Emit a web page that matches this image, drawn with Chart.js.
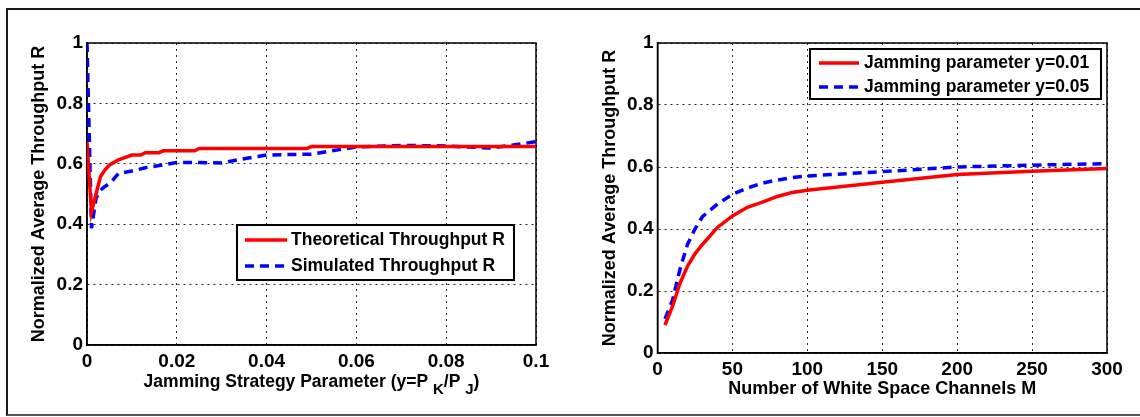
<!DOCTYPE html>
<html>
<head>
  <title>Normalized Average Throughput</title>
  <meta charset="utf-8" />
  <script src="https://cdn.jsdelivr.net/npm/chart.js"></script>
  <style>
    body { margin: 0; background: #fff; }
    #wrap { position: relative; width: 1140px; height: 417px; overflow: hidden; background: #fff; }
    #frame {
      position: absolute; left: 6px; top: 8px; width: 1200px; height: 408px;
      box-sizing: border-box;
      border-left: 2px solid #1a1a1a; border-top: 2px solid #1a1a1a; border-bottom: 2px solid #555;
    }
    canvas { position: absolute; top: 0; }
  </style>
</head>
<body>
<div id="wrap">
  <div id="frame"></div>
  <canvas id="left" width="570" height="417" style="left:0"></canvas>
  <canvas id="right" width="570" height="417" style="left:570px"></canvas>
</div>
<script>
  // left panel: R vs jamming strategy parameter y = P_K / P_J
  const theoParam = [0, 0.001, 0.002, 0.003, 0.004, 0.005, 0.007, 0.01, 0.012, 0.013, 0.016, 0.017, 0.024, 0.025, 0.049, 0.05, 0.1];
  const theoR     = [0.672, 0.44, 0.50, 0.557, 0.58, 0.596, 0.613, 0.629, 0.629, 0.637, 0.637, 0.643, 0.643, 0.651, 0.651, 0.657, 0.657];
  const simParam  = [0, 0.001, 0.002, 0.003, 0.004, 0.005, 0.006, 0.007, 0.01, 0.013, 0.02, 0.025, 0.03, 0.035, 0.04, 0.05, 0.06, 0.07, 0.08, 0.09, 0.1];
  const simR      = [1.0, 0.387, 0.485, 0.513, 0.525, 0.535, 0.55, 0.568, 0.576, 0.587, 0.604, 0.604, 0.603, 0.617, 0.629, 0.632, 0.656, 0.661, 0.659, 0.652, 0.673];

  // right panel: R vs number of white space channels M
  const channelsM = [5, 10, 15, 20, 25, 30, 40, 50, 60, 70, 80, 90, 100, 150, 200, 250, 300];
  const rJam001   = [0.09, 0.15, 0.225, 0.28, 0.32, 0.35, 0.405, 0.442, 0.47, 0.487, 0.505, 0.518, 0.525, 0.551, 0.576, 0.586, 0.595];
  const rJam005   = [0.11, 0.17, 0.27, 0.35, 0.40, 0.44, 0.48, 0.512, 0.532, 0.548, 0.558, 0.566, 0.571, 0.585, 0.600, 0.606, 0.611];

  const FONT = '"Liberation Sans", Arial, sans-serif';
  const fmt = v => String(+Number(v).toFixed(3));
  const pts = (xs, ys) => xs.map((x, i) => ({ x: x, y: ys[i] }));

  // full MATLAB style box around the axes
  const axesBox = {
    id: 'axesBox',
    beforeDatasetsDraw(chart) {
      const { ctx, chartArea: a } = chart;
      ctx.save();
      ctx.strokeStyle = '#000';
      ctx.lineWidth = 1.5;
      ctx.strokeRect(a.left, a.top, a.right - a.left, a.bottom - a.top);
      ctx.restore();
    }
  };

  // boxed legend with line samples
  const boxLegend = {
    id: 'boxLegend',
    afterDatasetsDraw(chart, args, o) {
      const ctx = chart.ctx;
      ctx.save();
      ctx.fillStyle = '#fff';
      ctx.fillRect(o.left, o.top, o.width, o.height);
      ctx.lineWidth = 2;
      ctx.strokeStyle = '#000';
      ctx.strokeRect(o.left, o.top, o.width, o.height);
      chart.data.datasets.forEach((ds, i) => {
        const y = o.rows[i];
        ctx.beginPath();
        ctx.setLineDash(ds.borderDash || []);
        ctx.lineWidth = ds.borderWidth;
        ctx.strokeStyle = ds.borderColor;
        ctx.moveTo(o.lineFrom, y);
        ctx.lineTo(o.lineTo, y);
        ctx.stroke();
        ctx.setLineDash([]);
        ctx.fillStyle = '#000';
        ctx.font = 'bold ' + o.fontSize + 'px ' + FONT;
        ctx.textBaseline = 'middle';
        ctx.textAlign = 'left';
        ctx.fillText(ds.label, o.textX, y);
      });
      ctx.restore();
    }
  };

  // x title with lowered K and J
  const subTitle = {
    id: 'subTitle',
    afterDraw(chart, args, o) {
      if (!o.parts) return;
      const ctx = chart.ctx;
      ctx.save();
      ctx.fillStyle = '#000';
      ctx.textBaseline = 'middle';
      ctx.textAlign = 'left';
      let total = 0;
      o.parts.forEach(p => {
        ctx.font = 'bold ' + (p.sub ? o.subSize : o.size) + 'px ' + FONT;
        p.w = ctx.measureText(p.text).width;
        total += p.w;
      });
      let x = (chart.chartArea.left + chart.chartArea.right) / 2 - total / 2;
      o.parts.forEach(p => {
        ctx.font = 'bold ' + (p.sub ? o.subSize : o.size) + 'px ' + FONT;
        ctx.fillText(p.text, x, o.y + (p.sub ? o.subShift : 0));
        x += p.w;
      });
      ctx.restore();
    }
  };

  function scales(c) {
    const tickFont = { family: FONT, size: 19, weight: 'bold' };
    return {
      x: {
        type: 'linear', min: c.xMin, max: c.xMax,
        ticks: { stepSize: c.xStep, padding: 5, color: '#000', font: tickFont, maxRotation: 0, callback: fmt },
        grid: { color: '#222', lineWidth: 1, drawTicks: false },
        border: { color: '#000', width: 1.5, dash: [2, 4] },
        title: c.xTitle
          ? { display: true, text: c.xTitle, color: '#000', font: { family: FONT, size: 18, weight: 'bold' }, padding: { top: 0, bottom: c.xTitlePad } }
          : { display: false },
        afterFit: s => { s.height = c.xHeight; }
      },
      y: {
        type: 'linear', min: 0, max: 1,
        ticks: { stepSize: 0.2, padding: 4, color: '#000', font: tickFont, callback: fmt },
        grid: { color: '#222', lineWidth: 1, drawTicks: false },
        border: { color: '#000', width: 1.5, dash: [2, 4] },
        title: { display: true, text: 'Normalized Average Throughput R', color: '#000', font: { family: FONT, size: 18, weight: 'bold' }, padding: { top: c.yTitlePad, bottom: 0 } },
        afterFit: s => { s.width = c.yWidth; }
      }
    };
  }

  const lineStyle = {
    red:  { borderColor: '#ff0000', borderWidth: 3.5, pointRadius: 0, tension: 0, fill: false },
    blue: { borderColor: '#0000ff', borderWidth: 3.5, borderDash: [9, 6], pointRadius: 0, tension: 0, fill: false }
  };

  new Chart(document.getElementById('left'), {
    type: 'line',
    data: {
      datasets: [
        Object.assign({ label: 'Theoretical Throughput R', data: pts(theoParam, theoR) }, lineStyle.red),
        Object.assign({ label: 'Simulated Throughput R', data: pts(simParam, simR) }, lineStyle.blue)
      ]
    },
    options: {
      responsive: false, animation: false, devicePixelRatio: 1,
      layout: { padding: { left: 0, top: 43, right: 34, bottom: 0 } },
      scales: scales({ xMin: 0, xMax: 0.1, xStep: 0.02, xHeight: 72, yWidth: 87, yTitlePad: 28.5 }),
      plugins: {
        legend: { display: false },
        tooltip: { enabled: false },
        boxLegend: { left: 237, top: 225, width: 277, height: 55, rows: [240, 266], lineFrom: 245, lineTo: 287, textX: 291, fontSize: 17.5 },
        subTitle: {
          y: 382, size: 17.5, subSize: 15, subShift: 8,
          parts: [
            { text: 'Jamming Strategy Parameter (y=P ' },
            { text: 'K', sub: true },
            { text: '/P ' },
            { text: 'J', sub: true },
            { text: ')' }
          ]
        }
      }
    },
    plugins: [axesBox, boxLegend, subTitle]
  });

  new Chart(document.getElementById('right'), {
    type: 'line',
    data: {
      datasets: [
        Object.assign({ label: 'Jamming parameter y=0.01', data: pts(channelsM, rJam001) }, lineStyle.red),
        Object.assign({ label: 'Jamming parameter y=0.05', data: pts(channelsM, rJam005) }, lineStyle.blue)
      ]
    },
    options: {
      responsive: false, animation: false, devicePixelRatio: 1,
      layout: { padding: { left: 0, top: 43, right: 33, bottom: 0 } },
      scales: scales({ xMin: 0, xMax: 300, xStep: 50, xHeight: 64, yWidth: 87.5, yTitlePad: 29.2,
                       xTitle: 'Number of White Space Channels M', xTitlePad: 17.2 }),
      plugins: {
        legend: { display: false },
        tooltip: { enabled: false },
        boxLegend: { left: 240, top: 49, width: 291, height: 50, rows: [63, 87], lineFrom: 249, lineTo: 289, textX: 294, fontSize: 17.5 }
      }
    },
    plugins: [axesBox, boxLegend]
  });
</script>
</body>
</html>
